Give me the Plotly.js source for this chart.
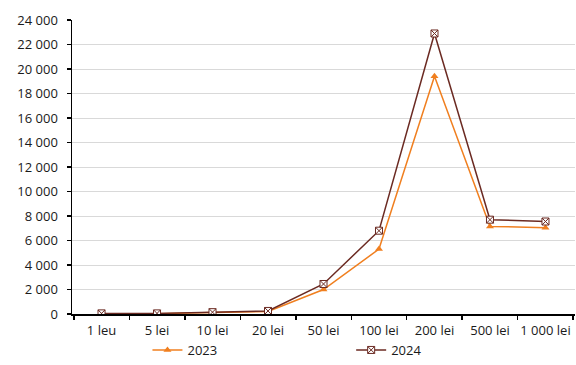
<!DOCTYPE html>
<html><head><meta charset="utf-8">
<script src="https://cdn.plot.ly/plotly-3.0.1.min.js"></script>
<style>html,body{margin:0;padding:0;background:#fff}</style>
</head><body>
<div id="chart" style="width:576px;height:365px"></div>
<script>
const categories = ["1 leu","5 lei","10 lei","20 lei","50 lei","100 lei","200 lei","500 lei","1 000 lei"];
const values2023 = [30, 30, 130, 200, 2000, 5300, 19400, 7150, 7050];
const values2024 = [50, 50, 150, 250, 2450, 6800, 22900, 7700, 7550];

const traces = [
  {x: categories, y: values2023, name: "2023", type: "scatter", mode: "lines+markers",
   legend: "legend",
   line: {color: "#F07F1F", width: 1.5},
   marker: {symbol: "triangle-up", size: 7, color: "#F07F1F"}},
  {x: categories, y: values2024, name: "2024", type: "scatter", mode: "lines+markers",
   legend: "legend2",
   line: {color: "#6B2A22", width: 1.5},
   marker: {symbol: "square-x", size: 7, color: "#ffffff", line: {color: "#6B2A22", width: 1}}}
];

const legendBase = {orientation: "h", yref: "container", yanchor: "bottom", y: -0.014,
  xanchor: "left", font: {size: 13}, bgcolor: "rgba(0,0,0,0)", itemwidth: 30};

const layout = {
  width: 576, height: 365,
  margin: {l: 72, r: 1, t: 20, b: 51},
  paper_bgcolor: "#fff", plot_bgcolor: "#fff",
  separators: ", ",
  font: {family: "Open Sans, sans-serif", size: 13, color: "#1a1a1a"},
  showlegend: true,
  legend: Object.assign({}, legendBase, {x: 0.15}),
  legend2: Object.assign({}, legendBase, {x: 0.555}),
  xaxis: {type: "category", showline: true, linecolor: "#000", linewidth: 1.5,
          ticks: "outside", tickson: "boundaries", ticklen: 4, tickcolor: "#000", tickwidth: 1.5,
          tickangle: 0, ticklabelstandoff: 4, automargin: false,
          showgrid: false, zeroline: false, fixedrange: true},
  yaxis: {range: [0, 24000], dtick: 2000, tickformat: ",d", automargin: false,
          showline: true, linecolor: "#000", linewidth: 1.5,
          ticks: "outside", ticklen: 4, tickcolor: "#000", tickwidth: 1.5,
          ticklabelstandoff: 6,
          showgrid: true, gridcolor: "#d9d9d9", gridwidth: 1, zeroline: false}
};
Plotly.newPlot("chart", traces, layout, {displayModeBar: false, staticPlot: true});
</script>
</body></html>
